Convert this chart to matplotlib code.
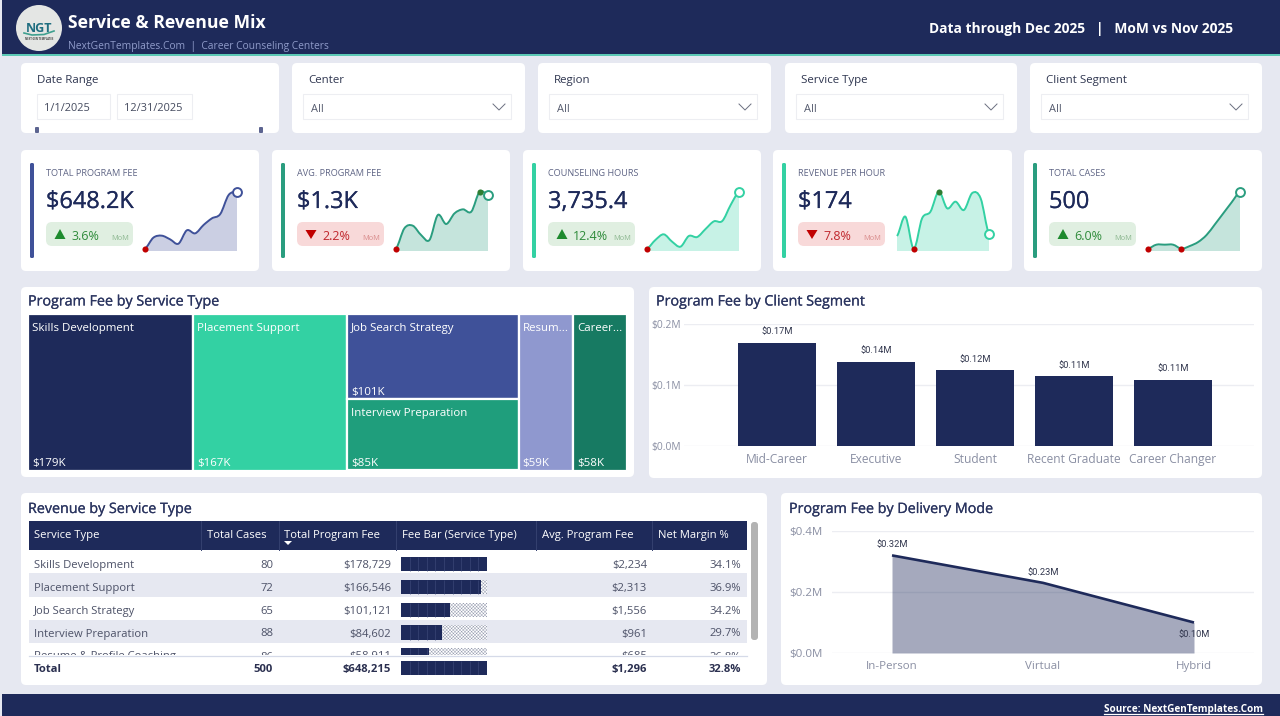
# Service & Revenue Mix dashboard
import matplotlib
matplotlib.use("Agg")
import matplotlib.pyplot as plt
import matplotlib.patheffects as pe
from matplotlib.patches import FancyBboxPatch, Rectangle, Circle, PathPatch, Polygon
from matplotlib.path import Path

plt.rcParams['font.family'] = ['Open Sans', 'DejaVu Sans']
plt.rcParams['text.parse_math'] = False
plt.rcParams['hatch.linewidth'] = 0.3

NAVY = '#1E2A5A'
TEAL = '#33D1A3'
GREEN = '#2A9D7F'
INDIGO = '#3F5199'
BG = '#E6E8F1'
TITLE = '#2B3560'
AXIS = '#8A8FA3'
GRID = '#ECEDF2'

W, H = 1280, 716

# ----- data -----
filter_names = ['Center', 'Region', 'Service Type', 'Client Segment']
date_from = '1/1/2025'
date_to = '12/31/2025'

kpi_titles = ['TOTAL PROGRAM FEE', 'AVG. PROGRAM FEE', 'COUNSELING HOURS', 'REVENUE PER HOUR', 'TOTAL CASES']
kpi_values = ['$648.2K', '$1.3K', '3,735.4', '$174', '500']
kpi_changes = [3.6, -2.2, 12.4, -7.8, 6.0]
kpi_colors = [INDIGO, GREEN, TEAL, TEAL, GREEN]

# monthly sparkline heights
spark_fee = [7, 40, 46, 35, 22, 62, 53, 78, 98, 111, 168, 178]
spark_avg = [7, 68, 76, 48, 33, 108, 81, 113, 125, 118, 178, 168]
spark_hours = [7, 33, 50, 28, 13, 45, 42, 66, 89, 90, 138, 178]
spark_rate = [45, 103, 7, 98, 118, 178, 128, 148, 123, 174, 158, 50]
spark_cases = [7, 19, 19, 19, 7, 15, 27, 48, 80, 113, 146, 178]
sparks = [spark_fee, spark_avg, spark_hours, spark_rate, spark_cases]

service_names = ['Skills Development', 'Placement Support', 'Job Search Strategy',
                 'Interview Preparation', 'Resume & Profile Coaching']
service_cases = [80, 72, 65, 88, 86]
service_fees = [178729, 166546, 101121, 84602, 58911]
service_avg = [2234, 2313, 1556, 961, 685]
service_margin = [34.1, 36.9, 34.2, 29.7, 26.8]
total_row = ['Total', 500, 648215, 1296, 32.8]

tree_labels = ['Skills Development', 'Placement Support', 'Job Search Strategy',
               'Interview Preparation', 'Resum...', 'Career...']
tree_values = [178729, 166546, 101121, 84602, 58911, 58306]
tree_colors = [NAVY, TEAL, INDIGO, '#1F9E7C', '#8F98CF', '#177A62']

segments = ['Mid-Career', 'Executive', 'Student', 'Recent Graduate', 'Career Changer']
segment_fees = [0.169, 0.138, 0.124, 0.114, 0.109]

modes = ['In-Person', 'Virtual', 'Hybrid']
mode_fees = [0.32, 0.23, 0.10]

fig = plt.figure(figsize=(12.8, 7.16), dpi=100, facecolor=BG)


def px_axes(x0, y0, x1, y1, zorder=2):
    # axes placed by pixel box, y measured from the top
    ax = fig.add_axes([x0 / W, 1 - y1 / H, (x1 - x0) / W, (y1 - y0) / H], zorder=zorder)
    ax.patch.set_alpha(0)
    return ax


def px(n):
    # font size for a pixel height
    return n * 72 / 100


def clean(ax):
    for s in ax.spines.values():
        s.set_visible(False)
    ax.set_xticks([])
    ax.set_yticks([])


bg = px_axes(0, 0, W, H, zorder=1)
bg.set_xlim(0, W)
bg.set_ylim(H, 0)
bg.axis('off')


def card(x0, y0, x1, y1, fc='white', ec='none', r=5, z=1):
    bg.add_patch(FancyBboxPatch((x0, y0), x1 - x0, y1 - y0, boxstyle=f'round,pad=0,rounding_size={r}',
                                fc=fc, ec=ec, lw=0.6, zorder=z))


def label(x, y, s, size=12, color=TITLE, weight='normal', ha='left', ax=bg, heavy=0, **kw):
    t = ax.text(x, y, s, fontsize=px(size), color=color, fontweight=weight, ha=ha, va='center_baseline', **kw)
    if heavy:
        # no semibold cut installed, thicken the regular one a little
        t.set_path_effects([pe.withStroke(linewidth=heavy, foreground=color)])
    return t


# ----- header and footer -----
bg.add_patch(Rectangle((2, 0), W - 2, 54, fc=NAVY, ec='none'))
bg.add_patch(Rectangle((2, 54), W - 2, 1.5, fc='#5CC9B5', ec='none'))
bg.add_patch(Rectangle((2, 694), W - 2, 22, fc=NAVY, ec='none'))
bg.add_patch(Circle((39, 28), 23, fc='#E4E6E4', ec='none', zorder=2))
label(39.5, 27, 'NGT', 12.5, '#1F6E80', 'bold', 'center', zorder=3)
bg.plot([24, 32, 44, 54], [33, 35, 34.5, 31], color='#3FA08F', lw=1.2, zorder=3)
label(39, 38.5, 'NEXT GEN TEMPLATES', 2.6, '#444444', 'bold', 'center', zorder=3)
label(68, 21.5, 'Service & Revenue Mix', 17.6, 'white', 'bold')
label(68, 44.5, 'NextGenTemplates.Com  |  Career Counseling Centers', 10.2, '#8F9BC9')
label(1233, 27, 'Data through Dec 2025   |   MoM vs Nov 2025', 13.8, 'white', 'bold', 'right')
label(1263, 708, 'Source: NextGenTemplates.Com', 10, 'white', 'bold', 'right')
bg.plot([1104, 1263], [714, 714], color='white', lw=0.9)

# ----- filters -----
card(21, 63, 279, 133)
label(37, 79, 'Date Range', 11.5, '#2F3650')
for x0, x1, tx, txt in [(37, 110, 44, date_from), (117, 192, 124, date_to)]:
    bg.add_patch(Rectangle((x0, 94), x1 - x0, 25, fc='white', ec='#EDEEF2', lw=0.8, zorder=2))
    label(tx, 107, txt, 11, '#444A5E', zorder=3)
for x in [37, 261]:
    bg.add_patch(FancyBboxPatch((x - 2, 127), 4, 6, boxstyle='round,pad=0,rounding_size=1',
                                fc='#5C6490', ec='none', zorder=2))

for i, name in enumerate(filter_names):
    x0 = [292, 538, 785, 1030][i]
    x1 = [525, 771, 1017, 1262][i]
    card(x0, 63, x1, 133)
    label(x0 + 16, 79, name, 11.5, '#2F3650')
    bg.add_patch(Rectangle((x0 + 11, 94), x1 - x0 - 25, 25, fc='white', ec='#EDEEF2', lw=0.8, zorder=2))
    label(x0 + 19, 108, 'All', 11, '#555B6E', zorder=3)
    bg.plot([x1 - 32, x1 - 26, x1 - 20], [104, 110, 104], color='#6B7080', lw=0.7, zorder=3)


# ----- KPI cards -----
def smooth_path(xs, ys):
    # catmull-rom handles, keeps the curve on the data points
    verts = [(xs[0], ys[0])]
    codes = [Path.MOVETO]
    n = len(xs)
    for i in range(n - 1):
        y0 = ys[max(i - 1, 0)]
        y3 = ys[min(i + 2, n - 1)]
        verts.append((xs[i] + 1 / 3, ys[i] + (ys[i + 1] - y0) / 6))
        verts.append((xs[i + 1] - 1 / 3, ys[i + 1] - (y3 - ys[i]) / 6))
        verts.append((xs[i + 1], ys[i + 1]))
        codes += [Path.CURVE4] * 3
    return verts, codes


def sparkline(x0, values, color):
    ax = px_axes(x0, 191, x0 + 92, 251, zorder=3)
    clean(ax)
    ax.set_xlim(0, len(values) - 1)
    ax.set_ylim(0, 180)
    xs = list(range(len(values)))
    verts, codes = smooth_path(xs, values)
    fill_verts = verts + [(xs[-1], 0), (xs[0], 0), (xs[0], values[0])]
    fill_codes = codes + [Path.LINETO, Path.LINETO, Path.CLOSEPOLY]
    ax.add_patch(PathPatch(Path(fill_verts, fill_codes), fc=color, ec='none', alpha=0.27))
    ax.add_patch(PathPatch(Path(verts, codes), fc='none', ec=color, lw=1.4, clip_on=False))
    for i, v in enumerate(values):
        if v == min(values):
            ax.plot(i, v, 'o', ms=4.4, color='#C00000', mec='none', clip_on=False, zorder=5)
        if v == max(values) and i != len(values) - 1:
            ax.plot(i, v, 'o', ms=4.4, color='#2E7D32', mec='none', clip_on=False, zorder=5)
    ax.plot(xs[-1], values[-1], 'o', ms=6.4, mfc='white', mec=color, mew=1.4, clip_on=False, zorder=6)


kpi_left = [21, 272, 523, 773, 1024]
kpi_right = [259, 510, 761, 1012, 1262]
for i in range(5):
    x0 = kpi_left[i]
    card(x0, 150, kpi_right[i], 271)
    color = kpi_colors[i]
    bg.add_patch(FancyBboxPatch((x0 + 9, 163), 4, 95, boxstyle='round,pad=0,rounding_size=1.5',
                                fc=color, ec='none', zorder=2))
    label(x0 + 25, 172.5, kpi_titles[i], 9.2, '#5F6585')
    label(x0 + 25, 199, kpi_values[i], 23.5, NAVY, heavy=0.15)
    up = kpi_changes[i] > 0
    pill = '#E0EFE1' if up else '#F8D9D9'
    txt_c = '#2E8B3A' if up else '#C0272D'
    mom_c = '#8DB891' if up else '#D98C8C'
    card(x0 + 25, 222, x0 + 112, 246, fc=pill, r=6, z=2)
    ax_x = x0 + 39
    if up:
        bg.add_patch(Polygon([(ax_x - 5.5, 239), (ax_x + 5.5, 239), (ax_x, 229)], fc='#1E8A2E', ec='none', zorder=3))
    else:
        bg.add_patch(Polygon([(ax_x - 5.5, 230), (ax_x + 5.5, 230), (ax_x, 239)], fc='#C00000', ec='none', zorder=3))
    label(x0 + 50, 235, f'{abs(kpi_changes[i]):.1f}%', 12.5, txt_c, zorder=3)
    label(x0 + 108, 237, 'MoM', 7.5, mom_c, ha='right', zorder=3)
    sparkline(x0 + 124, sparks[i], color)

# ----- panels -----
card(21, 287, 634, 477)
card(649, 287, 1262, 478)
card(21, 493, 767, 685)
card(781, 493, 1262, 685)
label(28, 300, 'Program Fee by Service Type', 14.3, TITLE, heavy=0.15)
label(656, 300, 'Program Fee by Client Segment', 14.3, TITLE, heavy=0.15)
label(28, 507.5, 'Revenue by Service Type', 14.3, TITLE, heavy=0.15)
label(789, 507.5, 'Program Fee by Delivery Mode', 14.3, TITLE, heavy=0.15)

# ----- treemap -----
tm = px_axes(28, 314.5, 627, 470.5)
clean(tm)
total = sum(tree_values)
tm.set_xlim(0, total)
tm.set_ylim(1, 0)
tm_columns = [[0], [1], [2, 3], [4], [5]]
left = 0
for col in tm_columns:
    width = sum(tree_values[k] for k in col)
    top = 0
    for k in col:
        h = tree_values[k] / width
        tm.add_patch(Rectangle((left, top), width, h, fc=tree_colors[k], ec='white', lw=1.6))
        lx = left + total * 4 / 599
        tm.text(lx, top + 12 / 155, tree_labels[k], fontsize=px(11.5), color='white', va='center_baseline')
        tm.text(lx, top + h - 8 / 155, f'${tree_values[k] / 1000:.0f}K', fontsize=px(11.5), color='white', va='center_baseline')
        top += h
    left += width

# ----- bars -----
ba = px_axes(684, 324, 1254, 446)
ba.set_xlim((684 - 777) / 99, (1254 - 777) / 99)
ba.set_ylim(0, 0.2)
ba.bar(range(len(segments)), segment_fees, width=0.78, color=NAVY, zorder=3)
for i, v in enumerate(segment_fees):
    ba.annotate(f'${v:.2f}M', (i, v), xytext=(0, 8), textcoords='offset points',
                ha='center', va='center', fontsize=px(9.3), color='#33384F', family='Roboto')
ba.set_xticks(range(len(segments)), segments)
ba.set_yticks([0, 0.1, 0.2], ['$0.0M', '$0.1M', '$0.2M'])
ba.tick_params(length=0, labelsize=px(12), labelcolor=AXIS)
ba.tick_params(axis='x', pad=5)
ba.tick_params(axis='y', pad=2, labelsize=px(10.2))
ba.grid(axis='y', color=GRID, lw=1, zorder=0)
for s in ba.spines.values():
    s.set_visible(False)

# ----- area -----
ar = px_axes(832, 531, 1254, 653)
ar.set_xlim((832 - 892) / 151, (1254 - 892) / 151)
ar.set_ylim(0, 0.4)
ar.fill_between(range(len(modes)), mode_fees, color=NAVY, alpha=0.4, lw=0, zorder=3)
ar.plot(range(len(modes)), mode_fees, color=NAVY, lw=1.9, zorder=4, solid_capstyle='butt')
for i, v in enumerate(mode_fees):
    off = -8.5 if i == 2 else 7.5
    ar.annotate(f'${v:.2f}M', (i, v), xytext=(0, off), textcoords='offset points',
                ha='center', va='center', fontsize=px(9.3), color='#33384F', family='Roboto', zorder=5)
ar.set_xticks(range(len(modes)), modes)
ar.set_yticks([0, 0.2, 0.4], ['$0.0M', '$0.2M', '$0.4M'])
ar.tick_params(length=0, labelsize=px(11.5), labelcolor=AXIS)
ar.tick_params(axis='x', pad=6)
ar.tick_params(axis='y', pad=7)
ar.grid(axis='y', color=GRID, lw=1, zorder=0)
for s in ar.spines.values():
    s.set_visible(False)

# ----- table -----
bg.add_patch(Rectangle((29, 521), 718, 29, fc=NAVY, ec='none', zorder=2))
headers = ['Service Type', 'Total Cases', 'Total Program Fee', 'Fee Bar (Service Type)',
           'Avg. Program Fee', 'Net Margin %']
header_x = [34, 207, 284, 402, 541.5, 657.5]
for s, x in zip(headers, header_x):
    label(x, 534, s, 11.3, 'white', zorder=3)
for x in [201, 279, 396, 536, 652]:
    bg.plot([x, x], [521, 550], color='#34406F', lw=0.7, zorder=3)
bg.add_patch(Polygon([(284, 541), (292, 541), (288, 545)], fc='white', ec='none', zorder=3))
bg.add_patch(FancyBboxPatch((751, 522), 7, 118, boxstyle='round,pad=0,rounding_size=3', fc='#B3B3B3', ec='none', zorder=2))

tb = px_axes(29, 550, 747, 655)
clean(tb)
tb.set_xlim(29, 747)
tb.set_ylim(655, 550)
tb.axhspan(573, 597, color=BG, lw=0)
tb.axhspan(620, 643, color=BG, lw=0)
row_y = [564, 587, 610, 632.5, 655.5]
GREY_TXT = '#4D5268'
for i, y in enumerate(row_y):
    kw = dict(ax=tb, clip_on=True)
    label(34, y, service_names[i], 11.3, GREY_TXT, **kw)
    label(273, y, str(service_cases[i]), 11.3, GREY_TXT, ha='right', **kw)
    label(391, y, f'${service_fees[i]:,}', 11.3, GREY_TXT, ha='right', **kw)
    label(647, y, f'${service_avg[i]:,}', 11.3, GREY_TXT, ha='right', **kw)
    label(741, y, f'{service_margin[i]:.1f}%', 11.3, GREY_TXT, ha='right', **kw)

bg.plot([29, 747], [655.5, 655.5], color='#D5DAE8', lw=0.9, zorder=3)
label(34, 668, total_row[0], 11.3, '#2B3050', 'bold')
label(273, 668, str(total_row[1]), 11.3, '#2B3050', 'bold', 'right')
label(391, 668, f'${total_row[2]:,}', 11.3, '#2B3050', 'bold', 'right')
label(647, 668, f'${total_row[3]:,}', 11.3, '#2B3050', 'bold', 'right')
label(741, 668, f'{total_row[4]:.1f}%', 11.3, '#2B3050', 'bold', 'right')

# fee bars, stippled remainder behind the solid part
fee_max = max(service_fees)
fb = px_axes(401, 550, 487, 655, zorder=3)
clean(fb)
fb.set_xlim(0, fee_max)
fb.set_ylim(655, 550)
bar_y = [564, 587, 610, 632.6, 655.6]
fb.barh(bar_y, [fee_max] * 5, height=14.4, color='white', edgecolor='#8F95AA', hatch='xxxxxxxxxx', lw=0)
fb.barh(bar_y, service_fees, height=14.4, color=NAVY, lw=0)
for i, v in enumerate(service_fees):
    ticks = [fee_max * k / 10 for k in range(1, 10) if fee_max * k / 10 < v]
    fb.vlines(ticks, bar_y[i] - 7.2, bar_y[i] + 7.2, color='#3A4676', lw=0.5)

ft = px_axes(401, 661, 487, 675, zorder=3)
clean(ft)
ft.set_xlim(0, fee_max)
ft.set_ylim(0, 1)
ft.barh(0.5, fee_max, height=1, color=NAVY, lw=0)
ft.vlines([fee_max * k / 10 for k in range(1, 10)], 0, 1, color='#3A4676', lw=0.5)

fig.savefig('out.png', dpi=100, facecolor=BG)
